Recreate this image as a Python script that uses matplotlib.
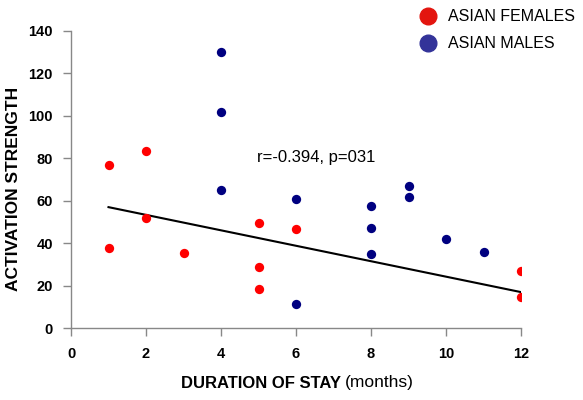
import numpy as np
import matplotlib
matplotlib.use("Agg")
import matplotlib.pyplot as plt
from matplotlib.lines import Line2D

plt.rcParams['font.family'] = ['Liberation Sans', 'DejaVu Sans']

# Asian females: months of stay vs activation strength
fem_months = [1, 1, 2, 2, 3, 5, 5, 5, 6, 12, 12]
fem_activation = [77.0, 37.7, 83.3, 51.9, 35.5, 49.3, 28.9, 18.4, 46.8, 26.7, 14.6]

# Asian males
male_months = [4, 4, 4, 6, 6, 8, 8, 8, 9, 9, 10, 11]
male_activation = [130.0, 101.8, 64.9, 60.7, 11.2, 57.7, 47.3, 35.0, 66.9, 61.9, 41.8, 35.8]

x_ticks = [0, 2, 4, 6, 8, 10, 12]
y_ticks = [0, 20, 40, 60, 80, 100, 120, 140]
stat_label = "r=-0.394, p=031"

fig = plt.figure(figsize=(5.83, 4.00), dpi=100)
ax = fig.add_axes([71 / 583, 72 / 400, 450 / 583, 297 / 400])

red = '#ff0000'
navy = '#000080'

ax.scatter(fem_months, fem_activation, s=45, color=red, zorder=3, linewidths=0)
ax.scatter(male_months, male_activation, s=45, color=navy, zorder=3, linewidths=0)

# least-squares trend line for the female group
slope, icept = np.polyfit(fem_months, fem_activation, 1)
xs = np.array([min(fem_months), max(fem_months)])
ax.plot(xs, slope * xs + icept, color='black', lw=1.5, zorder=2)

ax.text(4.95, 80.5, stat_label, fontsize=12, va='center', ha='left')

ax.set_xlim(0, 12)
ax.set_ylim(0, 140)
ax.set_xticks(x_ticks)
ax.set_yticks(y_ticks)
ax.set_xticklabels([str(t) for t in x_ticks], fontweight='bold', fontsize=10.5)
ax.set_yticklabels([str(t) for t in y_ticks], fontweight='bold', fontsize=10.5)
for s in ['top', 'right']:
    ax.spines[s].set_visible(False)
for s in ['left', 'bottom']:
    ax.spines[s].set_color('#888888')
    ax.spines[s].set_linewidth(1.0)
ax.tick_params(axis='both', direction='out', length=6, color='#888888', width=1.0)
ax.tick_params(axis='x', pad=8)
ax.tick_params(axis='y', pad=7)

fig.text(14 / 583, 1 - 189 / 400, "ACTIVATION STRENGTH", rotation=90,
         fontweight='bold', fontsize=12.5, ha='center', va='center')
fig.text(341 / 583, 1 - 383 / 400, "DURATION OF STAY", fontweight='bold',
         fontsize=12, ha='right', va='center')
fig.text(345 / 583, 1 - 383 / 400, "(months)", fontsize=12.5, ha='left', va='center')

handles = [Line2D([], [], ls='none', marker='o', markersize=12, color='#e3150f'),
           Line2D([], [], ls='none', marker='o', markersize=12, color='#333399')]
fig.legend(handles, ['ASIAN FEMALES', 'ASIAN MALES'], loc='upper left',
           bbox_to_anchor=(406 / 583, 1 + 5 / 400), frameon=False, fontsize=11.5,
           handletextpad=0.7, labelspacing=0.75, handlelength=1.0)

fig.savefig('out.png', dpi=100)
